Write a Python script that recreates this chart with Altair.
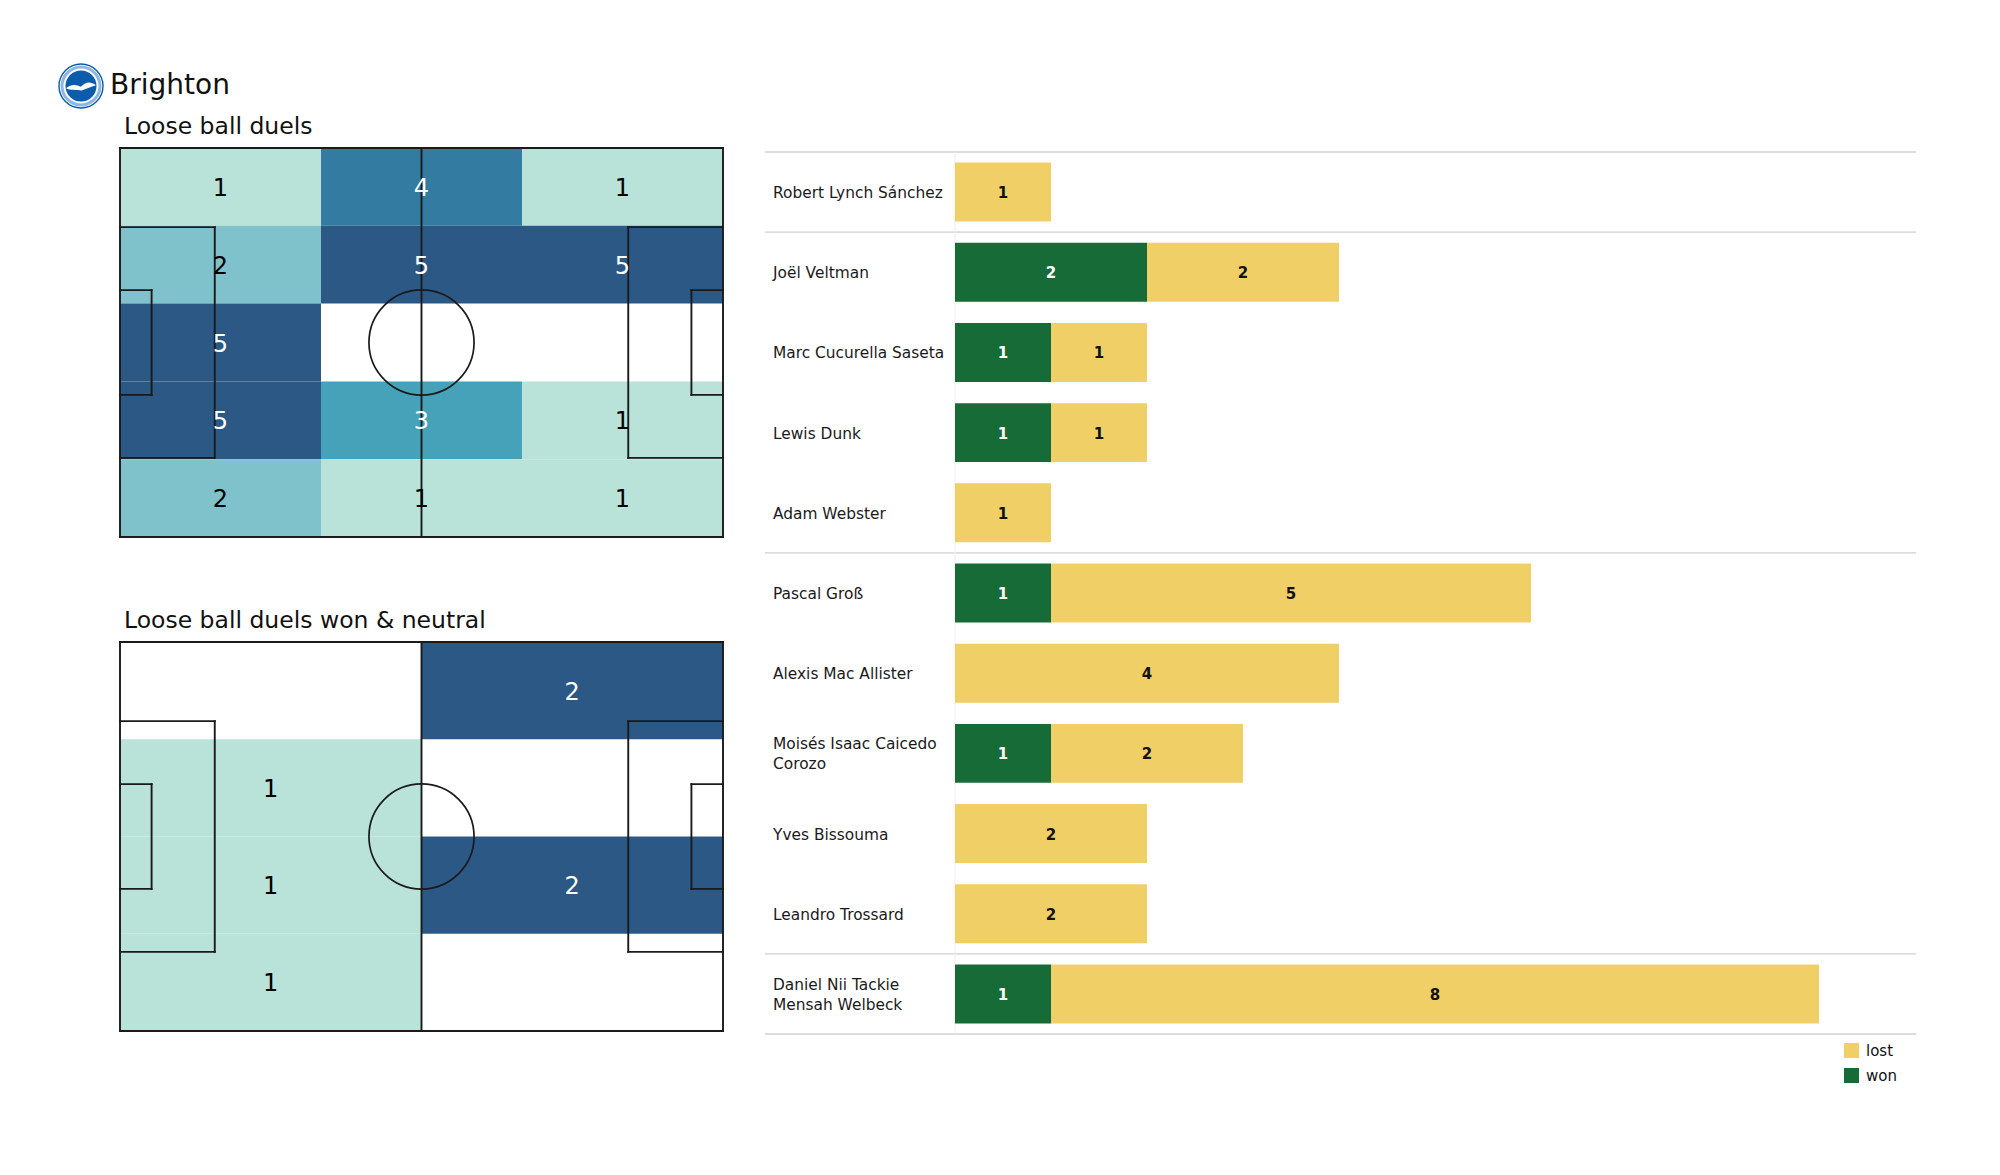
import altair as alt
import numpy as np
import pandas as pd

FONT = "DejaVu Sans"

# ---------------- data ----------------
team = "Brighton"
title_top = "Loose ball duels"
title_bottom = "Loose ball duels won & neutral"

# rows top -> bottom, columns left -> right
duels_grid = [
    [1, 4, 1],
    [2, 5, 5],
    [5, 0, 0],
    [5, 3, 1],
    [2, 1, 1],
]
won_neutral_grid = [
    [0, 2],
    [1, 0],
    [1, 2],
    [1, 0],
]
heat_colors = ["#b9e2d8", "#7fc2cb", "#45a2b9", "#337ba1", "#2c5885"]

players = [
    "Robert Lynch Sánchez",
    "Joël Veltman",
    "Marc Cucurella Saseta",
    "Lewis Dunk",
    "Adam Webster",
    "Pascal Groß",
    "Alexis Mac Allister",
    "Moisés Isaac Caicedo\nCorozo",
    "Yves Bissouma",
    "Leandro Trossard",
    "Daniel Nii Tackie\nMensah Welbeck",
]
groups = ["GK", "DEF", "DEF", "DEF", "DEF", "MID", "MID", "MID", "MID", "MID", "FWD"]
won = [0, 2, 1, 1, 0, 1, 0, 1, 0, 0, 1]
lost = [1, 2, 1, 1, 1, 5, 4, 2, 2, 2, 8]
outcomes = ["lost", "won"]
outcome_colors = ["#f0cf66", "#166b37"]

# ---------------- layout (pixels) ----------------
W, H = 2000, 1175
PITCH1 = (120, 723, 148, 537)
PITCH2 = (120, 723, 642, 1031)
BAR_X = (955, 1915)
BAR_Y = (152, 1034)
LINE = "#1a1a1a"
NAME_LH = 20

PITCH_SEGMENTS = [
    (0, 0, 105, 0), (105, 0, 105, 68), (105, 68, 0, 68), (0, 68, 0, 0),
    (52.5, 0, 52.5, 68),
    (0, 13.84, 16.5, 13.84), (16.5, 13.84, 16.5, 54.16), (16.5, 54.16, 0, 54.16),
    (105, 13.84, 88.5, 13.84), (88.5, 13.84, 88.5, 54.16), (88.5, 54.16, 105, 54.16),
    (0, 24.84, 5.5, 24.84), (5.5, 24.84, 5.5, 43.16), (5.5, 43.16, 0, 43.16),
    (105, 24.84, 99.5, 24.84), (99.5, 24.84, 99.5, 43.16), (99.5, 43.16, 105, 43.16),
]


def pitch_panel(grid, box, title_text):
    x0, x1, y0, y1 = box
    nrows, ncols = len(grid), len(grid[0])
    cells = []
    for r, row in enumerate(grid):
        for c, v in enumerate(row):
            cells.append(dict(
                cx0=c * 105 / ncols, cx1=(c + 1) * 105 / ncols,
                cy0=r * 68 / nrows, cy1=(r + 1) * 68 / nrows,
                xc=(c + 0.5) * 105 / ncols, yc=(r + 0.5) * 68 / nrows, v=v))
    df = pd.DataFrame(cells)
    vmax = int(df.v.max())
    df["tc"] = np.where(df.v / vmax > 0.5, "white", "black")
    df = df[df.v > 0]
    dom = list(range(1, vmax + 1))
    rng = [heat_colors[int(round((d - 1) / (vmax - 1) * (len(heat_colors) - 1)))] for d in dom]

    xs = alt.Scale(domain=[0, 105], range=[x0, x1], nice=False, zero=False)
    ys = alt.Scale(domain=[0, 68], range=[y0, y1], nice=False, zero=False)

    rects = alt.Chart(df).mark_rect(strokeWidth=0).encode(
        x=alt.X("cx0:Q", scale=xs, axis=None),
        x2="cx1:Q",
        y=alt.Y("cy0:Q", scale=ys, axis=None),
        y2="cy1:Q",
        color=alt.Color("v:Q", scale=alt.Scale(domain=dom, range=rng), legend=None),
    )
    seg = pd.DataFrame(PITCH_SEGMENTS, columns=["sx", "sy", "sx2", "sy2"])
    lines = alt.Chart(seg).mark_rule(color=LINE, strokeWidth=1.9, strokeCap="square").encode(
        x=alt.X("sx:Q", scale=xs, axis=None),
        x2="sx2:Q",
        y=alt.Y("sy:Q", scale=ys, axis=None),
        y2="sy2:Q",
    )
    r_px = 9.15 / 105 * (x1 - x0)
    circle = alt.Chart(pd.DataFrame({"cx": [52.5], "cy": [34]})).mark_point(
        shape="circle", filled=False, size=(2 * r_px) ** 2, color=LINE, strokeWidth=1.7, opacity=1
    ).encode(
        x=alt.X("cx:Q", scale=xs, axis=None),
        y=alt.Y("cy:Q", scale=ys, axis=None),
    )
    labels = alt.Chart(df).mark_text(font=FONT, fontSize=24, baseline="middle", align="center", dy=2).encode(
        x=alt.X("xc:Q", scale=xs, axis=None),
        y=alt.Y("yc:Q", scale=ys, axis=None),
        text="v:Q",
        color=alt.Color("tc:N", scale=None),
    )
    title = alt.Chart(pd.DataFrame({"t": [title_text]})).mark_text(
        font=FONT, fontSize=23.5, align="left", baseline="alphabetic", color="#111111"
    ).encode(text="t:N", x=alt.value(x0 + 4), y=alt.value(y0 - 14))
    return alt.layer(rects, lines, circle, labels, title)


pitch1 = pitch_panel(duels_grid, PITCH1, title_top)
pitch2 = pitch_panel(won_neutral_grid, PITCH2, title_bottom)

# ---------------- bars ----------------
rows = []
for p, w, l in zip(players, won, lost):
    rows.append(dict(player=p, outcome="won", start=0, end=w, n=w))
    rows.append(dict(player=p, outcome="lost", start=w, end=w + l, n=l))
bdf = pd.DataFrame(rows)
bdf = bdf[bdf.n > 0].copy()
bdf["mid"] = (bdf.start + bdf.end) / 2
bdf["tc"] = np.where(bdf.outcome == "won", "white", "#111111")

bxs = alt.Scale(domain=[0, 10], range=list(BAR_X), nice=False, zero=False)
bys = alt.Scale(domain=players, range=list(BAR_Y), paddingInner=0, paddingOuter=0)

bars = alt.Chart(bdf).mark_bar(height=alt.RelativeBandSize(0.735)).encode(
    x=alt.X("start:Q", scale=bxs, axis=None),
    x2="end:Q",
    y=alt.Y("player:N", scale=bys, axis=None, sort=players),
    color=alt.Color(
        "outcome:N",
        scale=alt.Scale(domain=outcomes, range=outcome_colors),
        legend=alt.Legend(
            title=None, orient="none", legendX=1844, legendY=1043,
            symbolType="square", symbolSize=225, symbolStrokeWidth=0,
            labelFont=FONT, labelFontSize=15, labelColor="#111111",
            rowPadding=9, padding=0, labelOffset=7,
        ),
    ),
)
bar_text = alt.Chart(bdf).mark_text(font=FONT, fontSize=15, fontWeight="bold", baseline="middle", dy=1).encode(
    x=alt.X("mid:Q", scale=bxs, axis=None),
    y=alt.Y("player:N", scale=bys, axis=None, sort=players),
    text="n:Q",
    color=alt.Color("tc:N", scale=None),
)

name_df = pd.DataFrame({"player": players})
name_df["nlines"] = name_df.player.str.count("\n") + 1
name_layers = []
for nl, sub in name_df.groupby("nlines"):
    name_layers.append(
        alt.Chart(sub).mark_text(
            font=FONT, fontSize=15.4, align="left", baseline="middle", lineBreak="\n",
            lineHeight=NAME_LH, color="#1a1a1a", dy=1 - (nl - 1) * NAME_LH / 2,
        ).encode(
            x=alt.value(773),
            y=alt.Y("player:N", scale=bys, axis=None, sort=players),
            text="player:N",
        )
    )

starts = [p for i, p in enumerate(players) if i == 0 or groups[i] != groups[i - 1]]
sep_top = alt.Chart(pd.DataFrame({"player": starts})).mark_rule(color="#dcdcdc", strokeWidth=1.8).encode(
    x=alt.value(765), x2=alt.value(1916),
    y=alt.Y("player:N", scale=bys, axis=None, sort=players, bandPosition=0),
)
sep_bottom = alt.Chart(pd.DataFrame({"player": [players[-1]]})).mark_rule(color="#dcdcdc", strokeWidth=1.8).encode(
    x=alt.value(765), x2=alt.value(1916),
    y=alt.Y("player:N", scale=bys, axis=None, sort=players, bandPosition=1),
)
baseline_rule = alt.Chart(pd.DataFrame({"z": [0]})).mark_rule(color="#eeeeee", strokeWidth=1).encode(
    x=alt.X("z:Q", scale=bxs, axis=None),
    y=alt.value(BAR_Y[0]), y2=alt.value(BAR_Y[1]),
)
bar_panel = alt.layer(sep_top, sep_bottom, baseline_rule, bars, bar_text, *name_layers)

# ---------------- header ----------------
LOGO = (81, 86)
one = pd.DataFrame({"k": [0]})
logo_outer = alt.Chart(one).mark_point(
    shape="circle", filled=True, size=44 ** 2, fill="white", stroke="#0b5cad", strokeWidth=1.4, opacity=1
).encode(x=alt.value(LOGO[0]), y=alt.value(LOGO[1]))
logo_ring = alt.Chart(one).mark_point(
    shape="circle", filled=False, size=38 ** 2, color="#8fb8e0", strokeWidth=3, opacity=1
).encode(x=alt.value(LOGO[0]), y=alt.value(LOGO[1]))
logo_inner = alt.Chart(one).mark_point(
    shape="circle", filled=True, size=31 ** 2, color="#0b5cad", opacity=1
).encode(x=alt.value(LOGO[0]), y=alt.value(LOGO[1]))
gull = alt.Chart(one).mark_point(
    shape="M-1,0.15 C-0.6,-0.2 -0.25,-0.05 0,0.05 C0.25,-0.25 0.6,-0.35 1,-0.05 C0.65,0.05 0.3,0.2 0.05,0.3 C-0.3,0.25 -0.7,0.3 -1,0.15 Z",
    filled=True, size=30 ** 2, color="white", opacity=1
).encode(x=alt.value(LOGO[0]), y=alt.value(LOGO[1]))
team_title = alt.Chart(pd.DataFrame({"t": [team]})).mark_text(
    font=FONT, fontSize=28, align="left", baseline="alphabetic", color="#111111"
).encode(text="t:N", x=alt.value(110), y=alt.value(94))
header = alt.layer(logo_outer, logo_ring, logo_inner, gull, team_title)

chart = (
    alt.layer(header, pitch1, pitch2, bar_panel)
    .resolve_scale(x="independent", y="independent", color="independent")
    .properties(width=W, height=H, autosize=alt.AutoSizeParams(type="none"), padding=0, background="white")
    .configure_view(stroke=None)
)

chart.save("out.html", embed_options={"renderer": "svg", "actions": False})
